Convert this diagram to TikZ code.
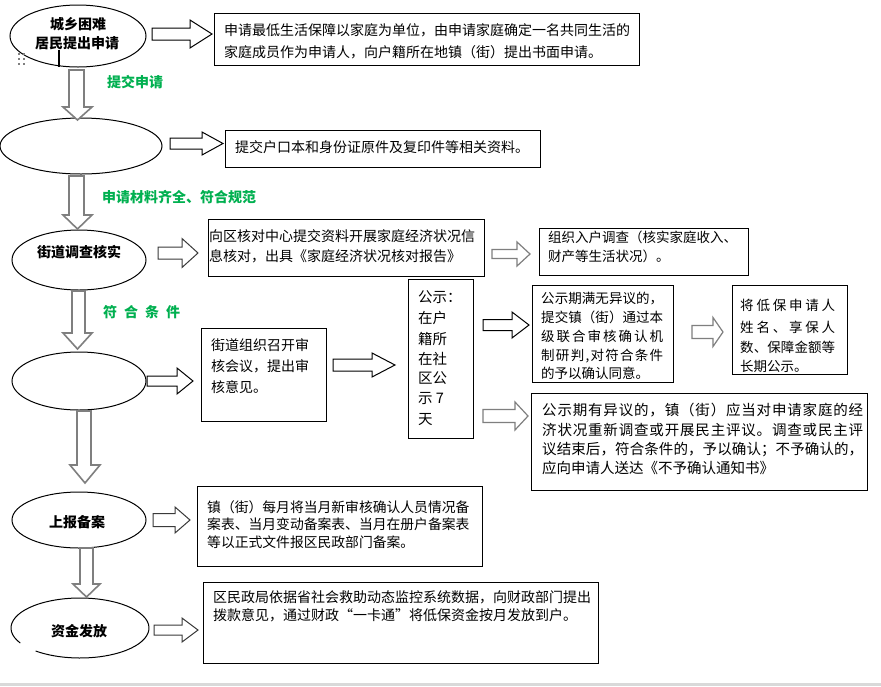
\documentclass[tikz,border=0pt]{standalone}
\usepackage{fontspec}
\setmainfont{Noto Sans CJK SC}
\usetikzlibrary{shapes.geometric}
\definecolor{grn}{HTML}{00B050}
\definecolor{agray}{HTML}{7F7F7F}
\definecolor{dgray}{HTML}{3A3A3A}
\definecolor{lgray}{HTML}{D9D9D9}
\newcounter{tl}
% text line: [options]{x}{center y}{text}
\newcommand\TL[4][]{\stepcounter{tl}\node[anchor=base west,inner sep=0,#1] (t\arabic{tl}) at (#2,#3+5) {#4};}
% spread text over a width
\def\sprA#1{#1\sprB}
\def\sprB#1{\ifx\relax#1\else\hfil#1\expandafter\sprB\fi}
\newcommand\SP[2]{\hbox to #1pt{\sprA#2\relax}}
% box: name, x0, y0, x1, y1
\newcommand\BOX[5]{\node[box,minimum width={#4-#2},minimum height={#5-#3}] (#1) at ({(#2+#4)/2},{(#3+#5)/2}) {};}
% right block arrow: x0, xhead, xtip, yc, shaft half, head half, style
\newcommand\RA[7]{\draw[#7,fill=white,line join=miter] (#1,#4-#5) -- (#2,#4-#5) -- (#2,#4-#6) -- (#3,#4) -- (#2,#4+#6) -- (#2,#4+#5) -- (#1,#4+#5) -- cycle;}
% down block arrow: shaft left, shaft right, head left, head right, ytop, yhead, ytip, style
\newcommand\DA[8]{\draw[#8,fill=white,line join=miter] (#1,#5) -- (#2,#5) -- (#2,#6) -- (#4,#6) -- ({(#3+#4)/2},#7) -- (#3,#6) -- (#1,#6) -- cycle;}
\begin{document}
\begin{tikzpicture}[x=1pt,y=-1pt,
  box/.style={draw,line width=0.9pt,inner sep=0},
  ell/.style={ellipse,draw,line width=1pt,inner sep=0},
  lab/.style={font=\fontsize{14}{17}\selectfont\bfseries,anchor=base},
  glab/.style={font=\fontsize{14}{17}\selectfont\bfseries,text=grn},
  darr/.style={agray,line width=1.6pt},
  barr/.style={black,line width=1pt},
  garr/.style={agray,line width=1.2pt},
  dgarr/.style={dgray,line width=1pt},
  font=\fontsize{14}{17}\selectfont]
\useasboundingbox (0,0) rectangle (881,686);
\fill[white] (0,0) rectangle (881,686);
\fill[lgray] (0,683) rectangle (881,686);

% ellipses
\node[ell,minimum width=136,minimum height=62] (e1) at (78,36) {};
\node[ell,minimum width=162,minimum height=56] (e2) at (81,146) {};
\node[ell,minimum width=134,minimum height=60] (e3) at (79,260) {};
\node[ell,minimum width=134,minimum height=58] (e4) at (79,381) {};
\node[ell,minimum width=134,minimum height=56] (e5) at (79,520) {};
\node[ellipse,inner sep=0,minimum width=138,minimum height=60] (e6) at (80,628) {};
\draw[line width=1pt] ([shift={(150:69 and 30)}]e6.center) arc[start angle=150,end angle=490,x radius=69,y radius=30];

% handle artefacts at first ellipse
\draw[line width=1.5pt] (59,50) -- (59,67);
\foreach \px in {19,24} \foreach \py in {54,59,64} \fill[agray] (\px-1,\py-1) rectangle (\px+1,\py+1);

% ellipse labels
\TL[lab]{78}{24}{城乡困难}
\TL[lab]{77}{43}{居民提出申请}
\TL[lab]{79}{252}{街道调查核实}
\TL[lab]{77}{522}{上报备案}
\TL[lab]{79}{631}{资金发放}

% green labels
\TL[glab]{107}{82}{提交申请}
\TL[glab]{102}{197}{申请材料齐全、符合规范}
\TL[glab]{103}{312}{\SP{77}{符合条件}}

% down arrows
\DA{69}{84}{63}{92}{70}{107}{120}{darr}
\DA{69}{84}{63}{92}{176}{215}{229}{darr}
\DA{72}{85}{63}{92}{291}{333}{349}{darr}
\DA{77}{91}{70}{100}{411}{465}{483}{darr}
\DA{80}{93}{73}{100}{548}{584}{597}{darr}

% right arrows
\RA{152}{190}{212}{34}{6}{14}{barr}
\RA{170}{202}{223}{143.5}{5.5}{11.5}{barr}
\RA{158}{182}{198}{253}{6}{14.5}{dgarr}
\RA{492}{517}{530}{254}{4.5}{12}{garr}
\RA{147}{177}{193}{381}{5}{13}{barr}
\RA{333}{372}{395}{365}{6}{12}{barr}
\RA{483}{512}{529}{325}{5.5}{13}{barr}
\RA{692}{713}{723}{332}{6.5}{14.5}{garr}
\RA{483}{515}{528}{416}{6.5}{14}{garr}
\RA{153}{175}{190}{520}{6.5}{13}{dgarr}
\RA{154}{182}{198}{630}{5}{12}{dgarr}

% boxes
\BOX{b1}{214}{13}{639}{65}
\BOX{b2}{225}{130}{540}{167}
\BOX{b3}{208}{219}{484}{276}
\BOX{b4}{539}{228}{748}{275}
\BOX{b5}{201}{328}{326}{421}
\BOX{b6}{408}{279}{473}{438}
\BOX{b7}{532}{285}{673}{382}
\BOX{b8}{732}{285}{847}{374}
\BOX{b9}{531}{393}{867}{490}
\BOX{b10}{197}{486}{482}{566}
\BOX{b11}{203}{582}{598}{663}

% box texts
\TL{224}{30}{申请最低生活保障以家庭为单位，由申请家庭确定一名共同生活的}
\TL{224}{52}{家庭成员作为申请人，向户籍所在地镇（街）提出书面申请。}
\TL{235}{147}{提交户口本和身份证原件及复印件等相关资料。}
\TL{209}{236}{向区核对中心提交资料开展家庭经济状况信}
\TL{209}{256}{息核对，出具《家庭经济状况核对报告》}
\begin{scope}[font=\fontsize{13.5}{16}\selectfont]
\TL{548}{237}{组织入户调查（核实家庭收入、}
\TL{548}{256}{财产等生活状况）。}
\end{scope}
\TL{211}{345}{街道组织召开审}
\TL{211}{366}{核会议，提出审}
\TL{211}{387}{核意见。}
\begin{scope}[font=\fontsize{14.5}{17}\selectfont]
\TL{418}{297}{公示：}
\TL{418}{318}{在户}
\TL{418}{339}{籍所}
\TL{418}{359}{在社}
\TL{418}{378}{区公}
\TL{418}{398}{示 7}
\TL{418}{419}{天}
\end{scope}
\begin{scope}[font=\fontsize{13.5}{16}\selectfont]
\TL{541}{298}{\SP{122}{公示期满无异议的，}}
\TL{541}{317}{\SP{122}{提交镇（街）通过本}}
\TL{541}{336}{\SP{122}{级联合审核确认机}}
\TL{541}{355}{\SP{122}{制研判,对符合条件}}
\TL{541}{373}{的予以确认同意。}
\TL{740}{305}{\SP{95}{将低保申请人}}
\TL{740}{327}{\SP{95}{姓名、享保人}}
\TL{740}{347}{\SP{95}{数、保障金额等}}
\TL{740}{366}{长期公示。}
\end{scope}
\begin{scope}[font=\fontsize{14.5}{17}\selectfont]
\TL{542}{410}{\SP{321}{公示期有异议的，镇（街）应当对申请家庭的经}}
\TL{542}{430}{\SP{321}{济状况重新调查或开展民主评议。调查或民主评}}
\TL{542}{449}{\SP{321}{议结束后，符合条件的，予以确认；不予确认的，}}
\TL{542}{468}{应向申请人送达《不予确认通知书》}
\end{scope}
\begin{scope}[font=\fontsize{13.8}{16}\selectfont]
\TL{207}{507}{镇（街）每月将当月新审核确认人员情况备}
\TL{207}{524}{案表、当月变动备案表、当月在册户备案表}
\TL{207}{542}{等以正式文件报区民政部门备案。}
\end{scope}
\TL{213}{597}{区民政局依据省社会救助动态监控系统数据，向财政部门提出}
\TL{213}{615}{拨款意见，通过财政“一卡通”将低保资金按月发放到户。}
\end{tikzpicture}
\end{document}
